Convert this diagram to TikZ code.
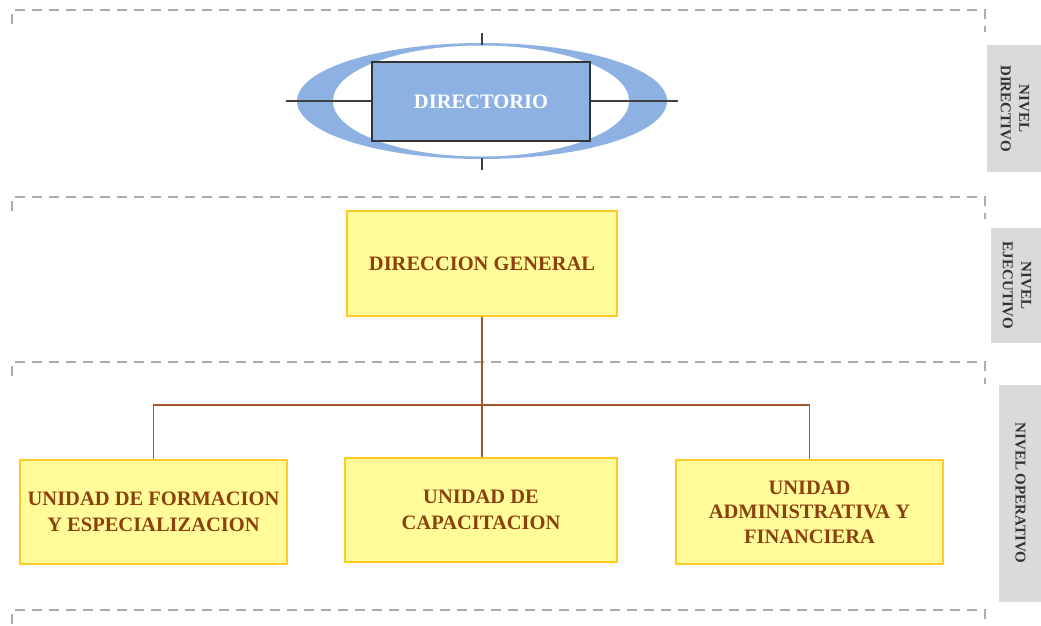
\documentclass[tikz,border=0pt]{standalone}
\usepackage{fontspec}
\setmainfont{Liberation Serif}
\definecolor{dirblue}{HTML}{8EB1E3}
\definecolor{ringblue}{HTML}{8EB1E3}
\definecolor{boxyellow}{HTML}{FFFC99}
\definecolor{boxborder}{HTML}{FFC926}
\definecolor{txtbrown}{HTML}{8E3F0E}
\definecolor{linebrown}{HTML}{A0582A}
\definecolor{sidegray}{HTML}{DADADA}
\definecolor{dashgray}{HTML}{ABABAB}
\begin{document}
\begin{tikzpicture}[x=1pt,y=-1pt,
  levelline/.style={draw=dashgray, line width=1.2pt, dash pattern=on 10pt off 7pt},
  unitbox/.style={draw=boxborder, fill=boxyellow, line width=1.4pt, text=txtbrown,
    font=\bfseries\fontsize{20.5}{25.5}\selectfont, align=center, inner sep=0pt},
  sidebox/.style={fill=sidegray, text=black!80, rotate=-90,
    font=\bfseries\fontsize{15}{18.5}\selectfont, align=center, inner sep=0pt},
  conn/.style={draw=linebrown, line width=1.1pt},
  tick/.style={draw=black!75, line width=1.2pt}]
\useasboundingbox (0,0) rectangle (1041,625);
\fill[white] (0,0) rectangle (1041,625);

% level separators
\foreach \yy in {10,197,362,610}{
  \draw[levelline] (12,\yy+14) -- (12,\yy) -- (985,\yy) -- (985,\yy+22);
}

% side labels
\node[sidebox, minimum width=127pt, minimum height=56pt] (ldir) at (1015,108.5) {NIVEL\\DIRECTIVO};
\node[sidebox, minimum width=115pt, minimum height=52pt] (leje) at (1017,285.5) {NIVEL\\EJECUTIVO};
\node[sidebox, minimum width=217pt, minimum height=43pt] (lope) at (1020.5,493) {NIVEL OPERATIVO};

% directorio ring
\fill[ringblue] (482,101) ellipse [x radius=185pt, y radius=58pt];
\fill[white] (481,101) ellipse [x radius=148pt, y radius=55.5pt];
\coordinate (hl) at (286,101);
\coordinate (hr) at (678,101);
\coordinate (vt1) at (482,33);
\coordinate (vt2) at (482,45);
\coordinate (vb1) at (482,158);
\coordinate (vb2) at (482,170);
\draw[tick] (hl) -- (hr);
\draw[tick] (vt1) -- (vt2);
\draw[tick] (vb1) -- (vb2);
\node[draw=black!80, fill=dirblue, line width=1.1pt, minimum width=218pt, minimum height=79pt,
  text=white, font=\bfseries\fontsize{20.5}{24}\selectfont, inner sep=0pt] (dir) at (481,101.5) {DIRECTORIO};

% direccion general
\node[unitbox, minimum width=270pt, minimum height=105pt] (dg) at (482,263.5) {DIRECCION GENERAL};

% units
\node[unitbox, minimum width=267pt, minimum height=104pt] (form) at (153.5,512) {UNIDAD DE FORMACION\\Y ESPECIALIZACION};
\node[unitbox, minimum width=272pt, minimum height=104pt] (cap) at (481,510) {UNIDAD DE\\CAPACITACION};
\node[unitbox, minimum width=267pt, minimum height=104pt, font=\bfseries\fontsize{20.5}{24.5}\selectfont] (adm) at (809.5,512) {UNIDAD\\ADMINISTRATIVA Y\\FINANCIERA};

% connectors
\coordinate (bus) at (482,405);
\draw[conn] (dg.south) -- (dg.south |- cap.north);
\draw[conn] (form.north) -- (form.north |- bus) -- (adm.north |- bus) -- (adm.north);
\end{tikzpicture}
\end{document}
